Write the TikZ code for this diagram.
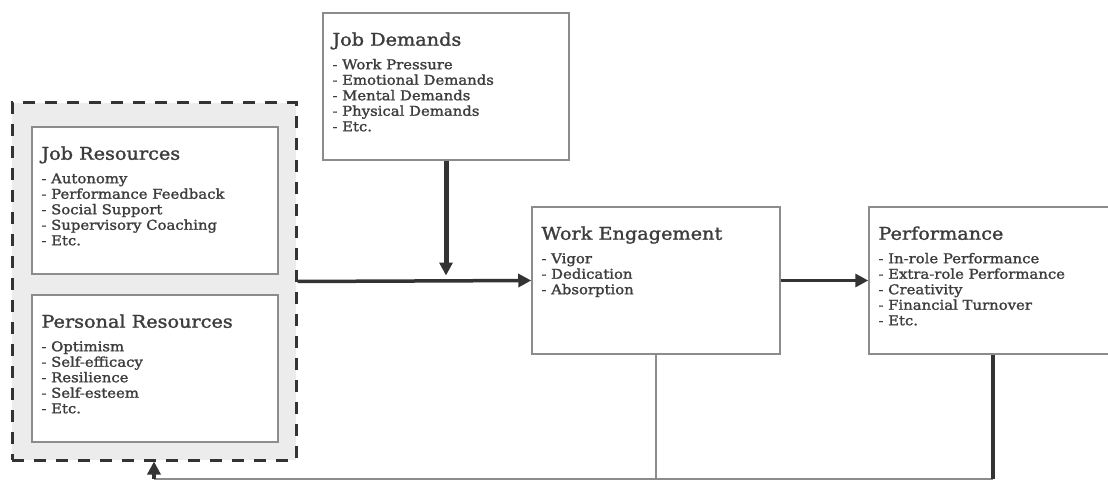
\documentclass[tikz,border=0pt]{standalone}
\usepackage{fontspec}
\setmainfont{DejaVu Serif}[FakeStretch=1.1, FakeBold=1.5]
\usetikzlibrary{arrows.meta}
\definecolor{boxgray}{HTML}{8C8C8C}
\definecolor{arrowgray}{HTML}{333333}
\definecolor{groupfill}{HTML}{ECECEC}
\definecolor{txtgray}{HTML}{3C3C3C}
\newcommand{\boxtitle}[1]{{\fontsize{17.5}{20}\selectfont #1}\\[8pt]}
\tikzset{
    box/.style = {draw = boxgray, line width = 1.5pt, fill = white, minimum width = 246pt, minimum height = 147pt, inner sep = 0pt},
    boxtext/.style = {anchor = north west, align = left, inner sep = 0pt, text = txtgray, font = \fontsize{13.5}{15.5}\selectfont},
    thickarrow/.style = {draw = arrowgray, line width = 3.5pt, -{Triangle[length = 13pt, width = 13pt]}},
    thickline/.style = {draw = arrowgray, line width = 4pt},
    thinline/.style = {draw = boxgray, line width = 1.8pt}
}
\begin{document}
\begin{tikzpicture}[x = 1pt, y = -1pt]
    \clip (0,0) rectangle (1108,481);
    \node[draw = arrowgray, fill = groupfill, line width = 3pt, dash pattern = on 12pt off 10pt, minimum width = 284pt, minimum height = 357pt, inner sep = 0pt] (dres) at (154,281.5) {};
    \node[box] (jres) at (155,200.5) {};
    \node[box] (pres) at (155,368.5) {};
    \node[box] (jdem) at (446,86.5) {};
    \node[box, minimum width = 248pt] (weng) at (656,280.5) {};
    \node[box, minimum width = 248pt] (perf) at (993,280.5) {};
    \node[boxtext] (jrestxt) at ([xshift = 10pt, yshift = -20pt]jres.north west) {\boxtitle{Job Resources}
        - Autonomy\\ - Performance Feedback\\ - Social Support\\ - Supervisory Coaching\\ - Etc.};
    \node[boxtext] (prestxt) at ([xshift = 10pt, yshift = -20pt]pres.north west) {\boxtitle{Personal Resources}
        - Optimism\\ - Self-efficacy\\ - Resilience\\ - Self-esteem\\ - Etc.};
    \node[boxtext] (jdemtxt) at ([xshift = 10pt, yshift = -20pt]jdem.north west) {\boxtitle{Job Demands}
        - Work Pressure\\ - Emotional Demands\\ - Mental Demands\\ - Physical Demands\\ - Etc.};
    \node[boxtext] (wengtxt) at ([xshift = 10pt, yshift = -20pt]weng.north west) {\boxtitle{Work Engagement}
        - Vigor\\ - Dedication\\ - Absorption};
    \node[boxtext] (perftxt) at ([xshift = 10pt, yshift = -20pt]perf.north west) {\boxtitle{Performance}
        - In-role Performance\\ - Extra-role Performance\\ - Creativity\\ - Financial Turnover\\ - Etc.};
    \coordinate (fb) at (dres.south |- 0,479);
    \draw[thickarrow] (dres.east) -- (weng.west);
    \draw[thickarrow, line width = 5pt, shorten > = 5pt] (jdem.south) -- (jdem.south |- weng.west);
    \draw[thickarrow] (weng.east) -- (perf.west);
    \draw[thinline] (weng.south) -- (weng.south |- fb);
    \draw[thinline] (perf.south |- fb) -- (fb);
    \draw[thickline] (perf.south) -- (perf.south |- fb);
    \draw[thickarrow] (fb) -- (dres.south);
\end{tikzpicture}
\end{document}
